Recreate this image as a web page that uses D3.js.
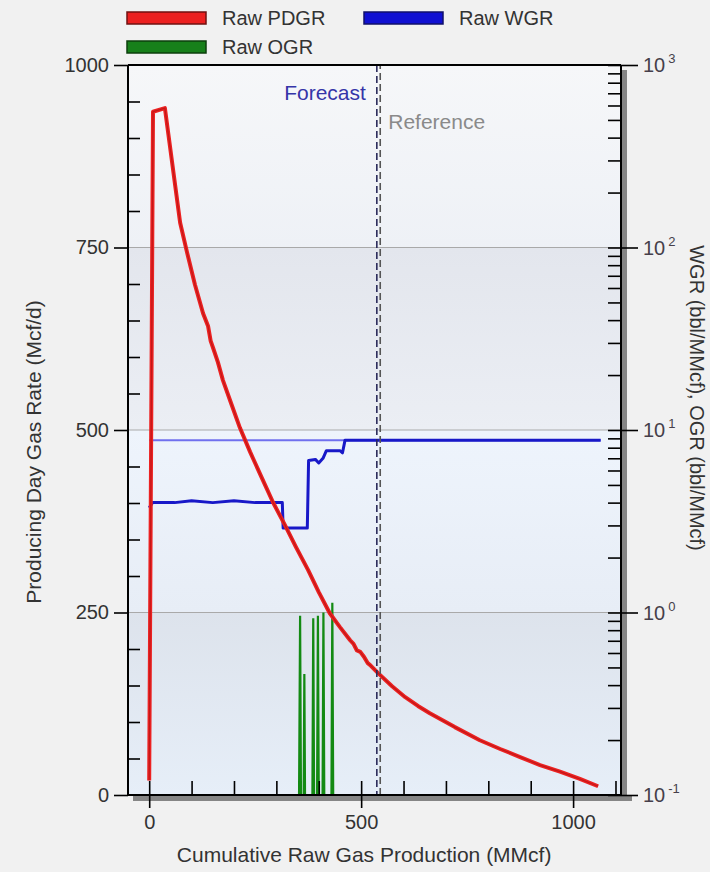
<!DOCTYPE html>
<html>
<head>
<meta charset="utf-8">
<script src="https://cdn.jsdelivr.net/npm/d3@7"></script>
<style>
  body { margin: 0; background: #f1f1f1; }
  svg { display: block; font-family: "Liberation Sans", Arial, sans-serif; }
</style>
</head>
<body>
<div id="chart"></div>
<script>
// Producing day gas rate / WGR / OGR vs cumulative gas

// Raw PDGR (Mcf/d) vs cumulative raw gas (MMcf)
const pdgrCum = [0, 9, 37, 73, 89, 108, 127, 139, 145, 151, 162, 174, 193, 214, 238, 266, 292, 320, 346, 375, 400, 426, 450, 474, 482, 490, 498, 507, 515, 523, 540, 573, 604, 634, 662, 721, 780, 828, 875, 922, 969, 1016, 1059];
const pdgr    = [20, 936, 941, 784, 744, 699, 660, 642, 622, 612, 593, 568, 537, 503, 470, 434, 401, 370, 340, 308, 278, 249, 230, 212, 207, 198, 196, 189, 181, 177, 167, 149, 134, 122, 112, 93, 75, 63, 52, 41, 32, 22, 12];

// Raw WGR (bbl/MMcf)
const wgrCum = [0, 8, 60, 100, 150, 200, 250, 314, 316, 373, 376, 392, 400, 410, 418, 450, 456, 462, 1065];
const wgr    = [3.75, 4.0, 4.0, 4.1, 4.0, 4.1, 4.0, 4.0, 2.9, 2.9, 6.8, 6.9, 6.6, 7.0, 7.7, 7.7, 7.5, 8.8, 8.8];

// Raw OGR (bbl/MMcf); 0.01 = no condensate (off the bottom of the log axis)
const ogrCum = [351, 356, 360, 362, 366, 370, 383, 387, 391, 394, 398, 402, 407, 411, 415, 428, 432, 436];
const ogr    = [0.01, 0.96, 0.01, 0.01, 0.46, 0.01, 0.01, 0.93, 0.01, 0.01, 0.96, 0.01, 0.01, 1.0, 0.01, 0.01, 1.13, 0.01];

// WGR forecast level
const wgrForecast = 8.8;
const wgrForecastCum = [0, 1065];

const forecastCum = 537;
const referenceCum = 545;

const leftTicks = [0, 250, 500, 750, 1000];
const bottomTicks = [0, 500, 1000];
const rightTicks = [0.1, 1, 10, 100, 1000];
const rightExponents = ['-1', '0', '1', '2', '3'];

const W = 710, H = 872;
const margin = {top: 65, right: 89, bottom: 77, left: 128};
const width = W - margin.left - margin.right;
const height = H - margin.top - margin.bottom;

const svg = d3.select('#chart').append('svg')
  .attr('width', W)
  .attr('height', H);

svg.append('rect').attr('width', W).attr('height', H).attr('fill', '#f1f1f1');

const defs = svg.append('defs');
defs.append('clipPath').attr('id', 'plot-clip')
  .append('rect').attr('width', width).attr('height', height);

const g = svg.append('g')
  .attr('transform', `translate(${margin.left},${margin.top})`);

const x = d3.scaleLinear().domain([-50, 1113]).range([0, width]);
const yL = d3.scaleLinear().domain([0, 1000]).range([height, 0]);
const yR = d3.scaleLog().domain([0.1, 1000]).range([height, 0]);

// shadow behind plot frame
g.append('rect').attr('x', width).attr('y', 5).attr('width', 6).attr('height', height + 1).attr('fill', '#858585');
g.append('rect').attr('x', 5).attr('y', height).attr('width', width + 6).attr('height', 6).attr('fill', '#858585');

// background bands
const bandColors = [
  ['#dde3ec', '#e6eef8'],
  ['#eef4fc', '#e7edf6'],
  ['#e3e6ed', '#ebeef4'],
  ['#f6f7f9', '#eef1f6']
];
bandColors.forEach((c, i) => {
  const id = 'band' + i;
  const grad = defs.append('linearGradient').attr('id', id)
    .attr('x1', 0).attr('y1', 0).attr('x2', 0).attr('y2', 1);
  grad.append('stop').attr('offset', '0%').attr('stop-color', c[0]);
  grad.append('stop').attr('offset', '100%').attr('stop-color', c[1]);
  g.append('rect')
    .attr('x', 0)
    .attr('y', yL(leftTicks[i + 1]))
    .attr('width', width)
    .attr('height', yL(leftTicks[i]) - yL(leftTicks[i + 1]))
    .attr('fill', `url(#${id})`);
});

// grid lines
g.selectAll('.grid')
  .data(leftTicks.slice(1, -1))
  .enter().append('line')
  .attr('x1', 0).attr('x2', width)
  .attr('y1', d => yL(d)).attr('y2', d => yL(d))
  .attr('stroke', '#a9a9a9').attr('stroke-width', 1.2);

const plot = g.append('g').attr('clip-path', 'url(#plot-clip)');

// WGR forecast level line
plot.append('line')
  .attr('x1', x(wgrForecastCum[0])).attr('x2', x(wgrForecastCum[1]))
  .attr('y1', yR(wgrForecast)).attr('y2', yR(wgrForecast))
  .attr('stroke', '#7070ee').attr('stroke-width', 2);

// OGR
const ogrLine = d3.line().x((d, i) => x(ogrCum[i])).y(d => yR(d));
plot.append('path')
  .attr('d', ogrLine(ogr))
  .attr('fill', 'none').attr('stroke', '#138a13').attr('stroke-width', 2.2);

// WGR
const wgrLine = d3.line().x((d, i) => x(wgrCum[i])).y(d => yR(d));
plot.append('path')
  .attr('d', wgrLine(wgr))
  .attr('fill', 'none').attr('stroke', '#1818c8').attr('stroke-width', 3)
  .attr('stroke-linejoin', 'round');

// PDGR
const pdgrLine = d3.line().x((d, i) => x(pdgrCum[i])).y(d => yL(d));
plot.append('path')
  .attr('d', pdgrLine(pdgr))
  .attr('fill', 'none').attr('stroke', '#ec2222').attr('stroke-width', 4)
  .attr('stroke-linejoin', 'round');
plot.append('path')
  .attr('d', pdgrLine(pdgr))
  .attr('fill', 'none').attr('stroke', '#a81010').attr('stroke-width', 1.2)
  .attr('stroke-opacity', 0.6);

// forecast / reference markers
plot.append('line')
  .attr('x1', x(forecastCum)).attr('x2', x(forecastCum))
  .attr('y1', 0).attr('y2', height)
  .attr('stroke', '#2a2a5a').attr('stroke-width', 1.6)
  .attr('stroke-dasharray', '7,4');
plot.append('line')
  .attr('x1', x(referenceCum)).attr('x2', x(referenceCum))
  .attr('y1', 0).attr('y2', height)
  .attr('stroke', '#555').attr('stroke-width', 1.6)
  .attr('stroke-dasharray', '7,4').attr('stroke-dashoffset', 3);

g.append('text')
  .attr('x', x(forecastCum) - 11).attr('y', 35)
  .attr('text-anchor', 'end')
  .attr('font-size', 21).attr('fill', '#3535a8')
  .text('Forecast');
g.append('text')
  .attr('x', x(referenceCum) + 8).attr('y', 64)
  .attr('font-size', 21).attr('fill', '#8a8a8a')
  .text('Reference');

// axes
function styleAxis(sel) {
  sel.select('.domain').remove();
  sel.selectAll('.tick line').attr('stroke', '#000').attr('stroke-width', 1.6);
  sel.selectAll('.tick text').attr('font-size', 20).attr('fill', '#333')
    .attr('font-family', '"Liberation Sans", Arial, sans-serif');
}

// left
g.append('g')
  .call(d3.axisLeft(yL).tickValues(leftTicks).tickSize(14).tickPadding(5).tickFormat(d3.format('d')))
  .call(styleAxis);
g.append('g')
  .call(d3.axisRight(yL).tickValues(d3.range(50, 1000, 50).filter(d => d % 250)).tickSize(12).tickFormat(''))
  .call(styleAxis);

// bottom
g.append('g')
  .attr('transform', `translate(0,${height})`)
  .call(d3.axisBottom(x).tickValues(bottomTicks).tickSize(13).tickPadding(7).tickFormat(d3.format('d')))
  .call(styleAxis);
g.append('g')
  .attr('transform', `translate(0,${height})`)
  .call(d3.axisTop(x).tickValues(d3.range(0, 1200, 100)).tickSize(14).tickFormat(''))
  .call(styleAxis);

// right (log)
const minorLog = [];
rightTicks.slice(0, -1).forEach(d => { for (let k = 2; k <= 9; k++) minorLog.push(d * k); });
g.append('g')
  .attr('transform', `translate(${width},0)`)
  .call(d3.axisRight(yR).tickValues(rightTicks).tickSize(17).tickFormat(''))
  .call(styleAxis);
g.append('g')
  .attr('transform', `translate(${width},0)`)
  .call(d3.axisLeft(yR).tickValues(rightTicks.concat(minorLog)).tickSize(13).tickFormat(''))
  .call(styleAxis);

const rLabels = g.append('g').selectAll('text')
  .data(rightTicks)
  .enter().append('text')
  .attr('x', width + 22)
  .attr('y', d => yR(d))
  .attr('dy', '0.36em')
  .attr('font-size', 20).attr('fill', '#463f4a');
rLabels.append('tspan').text('10');
rLabels.append('tspan')
  .attr('dx', 3).attr('dy', -9)
  .attr('font-size', 13)
  .text((d, i) => rightExponents[i]);

// frame lines
g.append('line').attr('x1', 0).attr('x2', width).attr('y1', 0).attr('y2', 0)
  .attr('stroke', '#000').attr('stroke-width', 2);
g.append('line').attr('x1', 0).attr('x2', width).attr('y1', height).attr('y2', height)
  .attr('stroke', '#000').attr('stroke-width', 2);
g.append('line').attr('x1', 0).attr('x2', 0).attr('y1', 0).attr('y2', height)
  .attr('stroke', '#000').attr('stroke-width', 2);
g.append('line').attr('x1', width).attr('x2', width).attr('y1', 0).attr('y2', height)
  .attr('stroke', '#000').attr('stroke-width', 2);

// axis titles
svg.append('text')
  .attr('x', (margin.left + x(0) + margin.left + x(1000)) / 2 + 3)
  .attr('y', 862)
  .attr('text-anchor', 'middle')
  .attr('font-size', 21).attr('fill', '#333')
  .text('Cumulative Raw Gas Production (MMcf)');

svg.append('text')
  .attr('transform', 'translate(41,452) rotate(-90)')
  .attr('text-anchor', 'middle')
  .attr('font-size', 21).attr('fill', '#333')
  .text('Producing Day Gas Rate (Mcf/d)');

svg.append('text')
  .attr('transform', 'translate(690,398) rotate(90)')
  .attr('text-anchor', 'middle')
  .attr('font-size', 20).attr('fill', '#333')
  .text('WGR (bbl/MMcf), OGR (bbl/MMcf)');

// legend
const legendItems = [
  {name: 'Raw PDGR', fill: '#ec2020', stroke: '#701010', x: 127, y: 12},
  {name: 'Raw WGR', fill: '#1010d2', stroke: '#10106a', x: 364, y: 12},
  {name: 'Raw OGR', fill: '#17801a', stroke: '#0c3f0c', x: 127, y: 41}
];
const legend = svg.append('g');
legendItems.forEach(d => {
  legend.append('rect')
    .attr('x', d.x).attr('y', d.y)
    .attr('width', 79).attr('height', 12)
    .attr('fill', d.fill).attr('stroke', d.stroke).attr('stroke-width', 1.5);
  legend.append('text')
    .attr('x', d.x + 95).attr('y', d.y + 13)
    .attr('font-size', 20).attr('fill', '#333')
    .text(d.name);
});
</script>
</body>
</html>
